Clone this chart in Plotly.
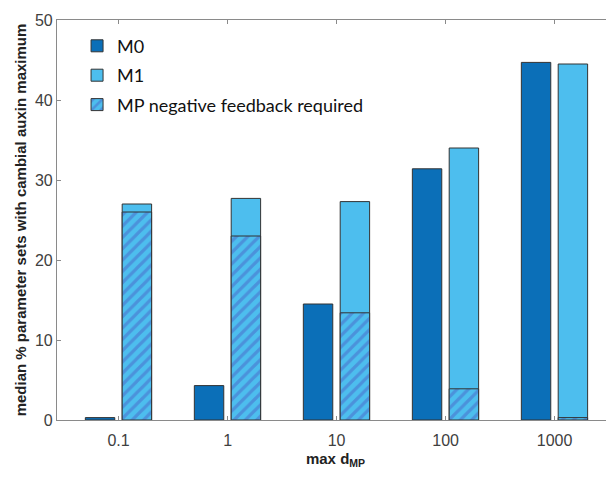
import plotly.graph_objects as go

categories = ["0.1", "1", "10", "100", "1000"]
m0_values = [0.3, 4.3, 14.5, 31.4, 44.7]
m1_values = [27.0, 27.7, 27.3, 34.0, 44.5]
mp_feedback_values = [26.0, 23.0, 13.4, 3.9, 0.3]
y_ticks = [0, 10, 20, 30, 40, 50]

C_M0 = "#0b6fb8"
C_M1 = "#4dbeee"
C_HATCH = "#4a66c8"
EDGE = "#333333"
BAR_W = 0.27

fig = go.Figure()
fig.add_trace(go.Bar(
    x=categories, y=m0_values, name="M0", offset=-0.305, width=BAR_W,
    marker=dict(color=C_M0, line=dict(color=EDGE, width=1)),
    legendgroup="a"))
fig.add_trace(go.Bar(
    x=categories, y=m1_values, name="M1", offset=0.033, width=BAR_W,
    marker=dict(color=C_M1, line=dict(color=EDGE, width=1)),
    legendgroup="b"))
fig.add_trace(go.Bar(
    x=categories, y=mp_feedback_values, name="MP negative feedback required",
    offset=0.033, width=BAR_W,
    marker=dict(color=C_M1, line=dict(color=EDGE, width=1),
                pattern=dict(shape="/", fgcolor=C_HATCH, bgcolor=C_M1,
                             size=8, solidity=0.4, fillmode="overlay")),
    legendgroup="c"))

axis_color = "#8a8a8a"
tick_font = dict(family="Liberation Sans, Arial, sans-serif", size=16, color="#404040")
title_font = dict(family="Liberation Sans, Arial, sans-serif", size=15, color="#222222")

# the page body adds an 8px margin, so the figure is sized to fit the window
fig.update_layout(
    width=606, height=473,
    margin=dict(l=49, r=0, t=12, b=61, autoexpand=False),
    paper_bgcolor="white", plot_bgcolor="white",
    barmode="overlay",
    showlegend=True,
    legend=dict(x=0.036, y=0.981, xanchor="left", yanchor="top",
                font=dict(family="Lato, Carlito, sans-serif", size=18, color="#111111"),
                bgcolor="rgba(255,255,255,0)", tracegroupgap=3,
                traceorder="grouped"),
    xaxis=dict(range=[-0.565, 4.545], showline=True, linecolor=axis_color, linewidth=1.2,
               mirror="ticks", ticks="inside", ticklen=4, tickcolor=axis_color,
               tickfont=tick_font, showgrid=False, zeroline=False,
               ticklabelstandoff=6,
               title=dict(text="<b>max d<sub>MP</sub></b>", font=title_font, standoff=5)),
    yaxis=dict(range=[0, 50], tickvals=y_ticks, showline=True, linecolor=axis_color, linewidth=1.2,
               ticks="inside", ticklen=4, tickcolor=axis_color,
               tickfont=tick_font, showgrid=False, zeroline=False,
               title=dict(text="<b>median % parameter sets with cambial auxin maximum</b>",
                          font=title_font, standoff=4)),
)

# inward ticks on the (cropped) right side of the box
for v in y_ticks[1:-1]:
    fig.add_shape(type="line", xref="paper", yref="y", x0=0.9955, x1=1.0, y0=v, y1=v,
                  line=dict(color=axis_color, width=1.2))

fig.write_html("out.html")
